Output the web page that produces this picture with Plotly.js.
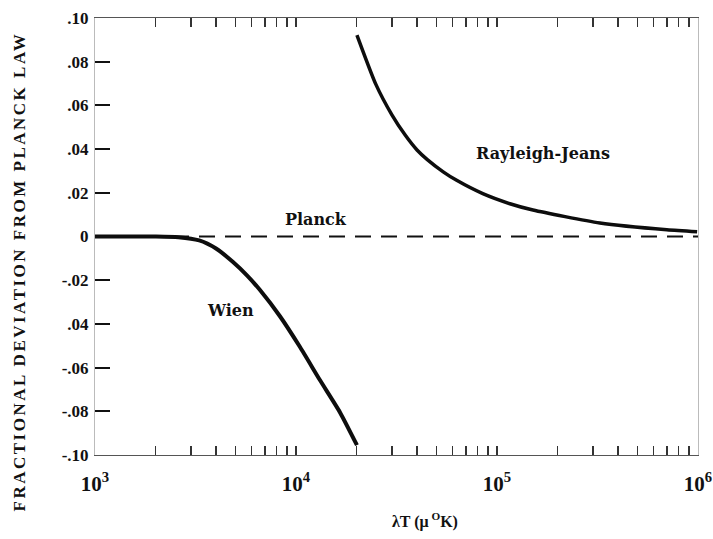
<!DOCTYPE html>
<html>
<head>
<meta charset="utf-8">
<script src="https://cdn.plot.ly/plotly-3.0.1.min.js"></script>
<style>
html, body { margin: 0; padding: 0; background: #fff; }
#chart { width: 713px; height: 539px; }
</style>
</head>
<body>
<div id="chart"></div>
<script>
// Wien approximation: fractional deviation from Planck law
const wienX = [1000, 2000, 2600, 3300, 4000, 4860, 5700, 6620, 8320, 10470, 13150, 16560, 20100];
const wienY = [0, 0, -0.0003, -0.0018, -0.0055, -0.0117, -0.0178, -0.0245, -0.0365, -0.0506, -0.0657, -0.0805, -0.0955];

// Rayleigh-Jeans approximation
const rjX = [20100, 25000, 30000, 35000, 40000, 45000, 54000, 63000, 85000, 116000, 151000, 325000, 700000, 990000];
const rjY = [0.0922, 0.0695, 0.0557, 0.0463, 0.0396, 0.0352, 0.0296, 0.0257, 0.0196, 0.0150, 0.0121, 0.0062, 0.0031, 0.0022];

// Planck (reference, zero deviation)
const planckX = [1000, 1000000];
const planckY = [0, 0];

// Axis ticks
const yTickVals = [0.10, 0.08, 0.06, 0.04, 0.02, 0, -0.02, -0.04, -0.06, -0.08, -0.10];
const yTickText = [".10", ".08", ".06", ".04", ".02", "0", "-.02", ".04", "-.06", "-.08", "-.10"];
const xDecades = [3, 4, 5, 6];

const xTickVals = [];
const xTickText = [];
for (let e = 3; e <= 5; e++) {
  for (let m = 1; m <= 9; m++) {
    xTickVals.push(m * Math.pow(10, e));
    xTickText.push(m === 1 ? "10<sup>" + e + "</sup>" : "");
  }
}
xTickVals.push(1e6);
xTickText.push("10<sup>" + xDecades[3] + "</sup>");

const serif = "Liberation Serif, Times New Roman, serif";
const labelFont = { family: "DejaVu Serif, serif", size: 16, color: "#111", weight: "bold" };

const traces = [
  { x: planckX, y: planckY, mode: "lines", line: { color: "#111", width: 2, dash: "16px,10px" }, hoverinfo: "skip" },
  { x: wienX, y: wienY, mode: "lines", line: { color: "#0d0d0d", width: 4, shape: "spline", smoothing: 0.6 }, hoverinfo: "skip" },
  { x: rjX, y: rjY, mode: "lines", line: { color: "#0d0d0d", width: 3.5, shape: "spline", smoothing: 0.6 }, hoverinfo: "skip" }
];

const layout = {
  width: 713, height: 539,
  margin: { l: 95, r: 15, t: 18, b: 84 },
  paper_bgcolor: "#fff", plot_bgcolor: "#fff",
  showlegend: false,
  xaxis: {
    type: "log",
    range: [3, 6],
    tickvals: xTickVals,
    ticktext: xTickText,
    ticks: "inside",
    ticklen: 9,
    tickwidth: 1.5,
    tickcolor: "#333",
    showline: true,
    linecolor: "#555",
    linewidth: 1,
    mirror: "ticks",
    showgrid: false,
    zeroline: false,
    tickangle: 0,
    ticklabelstandoff: 10,
    tickfont: { family: serif, size: 21, color: "#111", weight: "bold" }
  },
  yaxis: {
    range: [-0.10, 0.10],
    tickvals: yTickVals,
    ticktext: yTickText,
    ticks: "inside",
    ticklen: 15,
    tickwidth: 2,
    tickcolor: "#111",
    showline: true,
    linecolor: "#bbb",
    linewidth: 1,
    mirror: true,
    showgrid: false,
    zeroline: false,
    ticklabelstandoff: 2,
    tickfont: { family: serif, size: 17, color: "#111", weight: "bold" }
  },
  annotations: [
    { text: "Planck", xref: "paper", yref: "paper", x: 0.3665, y: 0.5378, xanchor: "center", yanchor: "middle", showarrow: false, font: labelFont },
    { text: "Rayleigh-Jeans", xref: "paper", yref: "paper", x: 0.743, y: 0.691, xanchor: "center", yanchor: "middle", showarrow: false, font: labelFont },
    { text: "Wien", xref: "paper", yref: "paper", x: 0.2255, y: 0.3318, xanchor: "center", yanchor: "middle", showarrow: false, font: labelFont },
    { text: "λT (μ<sup> O</sup>K)", xref: "paper", yref: "paper", x: 0.547, y: -0.151, xanchor: "center", yanchor: "middle", showarrow: false, font: { family: serif, size: 16, color: "#111", weight: "bold" } },
    { text: "FRACTIONAL DEVIATION FROM PLANCK LAW", xref: "paper", yref: "paper", x: -0.126, y: 0.42, xanchor: "center", yanchor: "middle", textangle: -90, showarrow: false, font: { family: serif, size: 17, color: "#111", weight: "bold" } }
  ]
};

Plotly.newPlot("chart", traces, layout, { staticPlot: true, displayModeBar: false }).then(function () {
  document.querySelectorAll(".annotation-text").forEach(function (t) {
    if (t.textContent.indexOf("FRACTIONAL") === 0) {
      t.style.letterSpacing = "2.5px";
    }
  });
});
</script>
</body>
</html>
